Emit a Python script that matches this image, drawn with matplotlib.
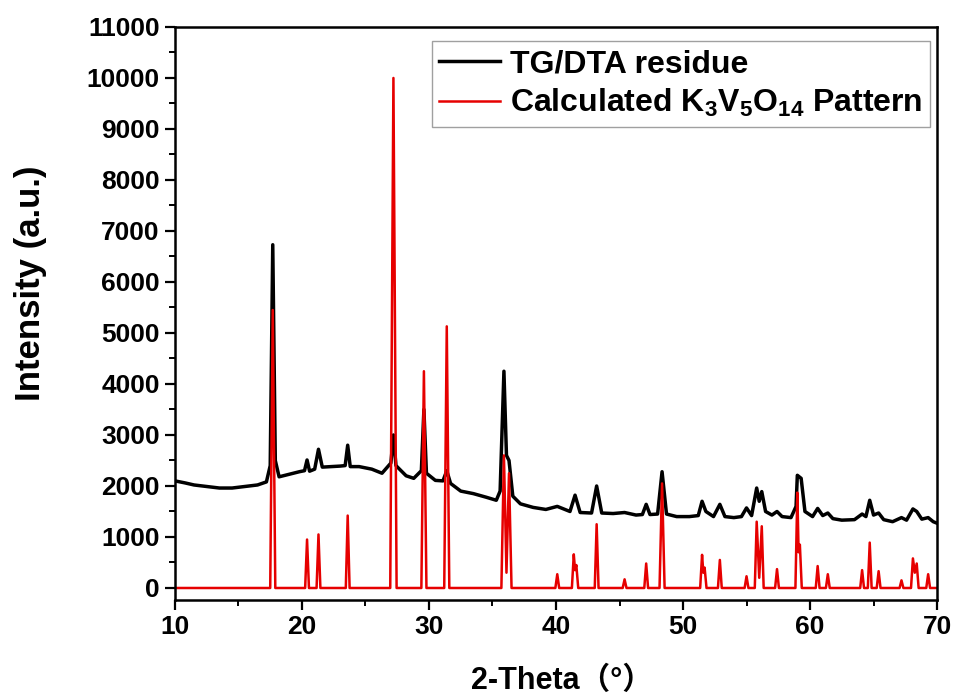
import matplotlib
matplotlib.use("Agg")
import matplotlib.pyplot as plt
from matplotlib.ticker import MultipleLocator

residue_x = [10.0, 10.8, 11.5, 12.5, 13.5, 14.5, 15.5, 16.5, 17.2, 17.5, 17.7, 17.9,
             18.2, 19.0, 19.8, 20.2, 20.4, 20.6, 21.0, 21.3, 21.6, 22.3, 23.0, 23.4,
             23.6, 23.8, 24.5, 25.5, 26.3, 27.0, 27.2, 27.4, 28.2, 28.8, 29.4, 29.6,
             29.8, 30.5, 31.1, 31.4, 31.7, 32.5, 33.5, 34.5, 35.3, 35.6, 35.9, 36.1,
             36.3, 36.6, 37.2, 38.2, 39.2, 40.1, 41.1, 41.5, 41.9, 42.8, 43.2, 43.6,
             44.5, 45.4, 46.3, 46.8, 47.1, 47.4, 48.0, 48.35, 48.7, 49.5, 50.5, 51.2,
             51.5, 51.8, 52.4, 52.9, 53.3, 54.0, 54.6, 55.0, 55.4, 55.8, 56.0, 56.2,
             56.5, 57.0, 57.4, 57.8, 58.5, 58.9, 59.0, 59.3, 59.6, 60.2, 60.6, 61.0,
             61.4, 61.8, 62.5, 63.5, 64.1, 64.4, 64.7, 65.0, 65.4, 65.8, 66.5, 67.2,
             67.6, 68.1, 68.4, 68.8, 69.3, 69.7, 70.0]
residue_y = [2100, 2060, 2020, 1990, 1960, 1960, 1990, 2020, 2080, 2400, 6730, 2500,
             2180, 2230, 2280, 2300, 2510, 2290, 2330, 2720, 2370, 2380, 2390, 2400,
             2800, 2380, 2380, 2330, 2250, 2450, 3000, 2400, 2200, 2150, 2300, 3500,
             2250, 2110, 2100, 2300, 2050, 1900, 1850, 1780, 1720, 1900, 4250, 2600,
             2500, 1800, 1650, 1580, 1540, 1600, 1500, 1820, 1480, 1470, 2000, 1470,
             1460, 1480, 1430, 1440, 1640, 1440, 1450, 2280, 1450, 1400, 1400, 1420,
             1700, 1500, 1400, 1640, 1400, 1380, 1400, 1570, 1420, 1960, 1700, 1890,
             1500, 1430, 1500, 1400, 1380, 1600, 2210, 2150, 1500, 1400, 1560, 1420,
             1470, 1360, 1330, 1340, 1450, 1400, 1720, 1430, 1470, 1340, 1300, 1380,
             1330, 1550, 1500, 1350, 1380, 1300, 1270]

# calculated K3V5O14 pattern
calc_x = [10.0, 17.5, 17.7, 17.9, 20.25, 20.4, 20.55, 21.15, 21.3, 21.45, 23.45, 23.6,
          23.75, 26.95, 27.2, 27.45, 29.4, 29.6, 29.8, 31.2, 31.4, 31.6, 35.7, 35.9,
          36.1, 36.3, 36.5, 39.95, 40.1, 40.25, 41.25, 41.4, 41.5, 41.6, 41.75, 43.05,
          43.2, 43.35, 45.25, 45.4, 45.55, 46.95, 47.1, 47.25, 48.15, 48.35, 48.55,
          51.35, 51.5, 51.6, 51.7, 51.85, 52.75, 52.9, 53.05, 54.85, 55.0, 55.15,
          55.65, 55.8, 56.0, 56.2, 56.35, 57.25, 57.4, 57.55, 58.85, 59.0, 59.1, 59.2,
          59.35, 60.45, 60.6, 60.75, 61.25, 61.4, 61.55, 63.95, 64.1, 64.25, 64.55,
          64.7, 64.85, 65.25, 65.4, 65.55, 67.05, 67.2, 67.35, 67.95, 68.1, 68.25,
          68.4, 68.55, 69.15, 69.3, 69.45, 70.0]
calc_y = [0, 0, 5450, 0, 0, 950, 0, 0, 1050, 0, 0, 1420,
          0, 0, 10000, 0, 0, 4250, 0, 0, 5130, 0, 0, 2600,
          300, 2250, 0, 0, 270, 0, 0, 660, 350, 450, 0, 0,
          1250, 0, 0, 170, 0, 0, 480, 0, 0, 2050, 0,
          0, 650, 300, 400, 0, 0, 550, 0, 0, 230, 0,
          0, 1300, 200, 1210, 0, 0, 370, 0, 0, 1870, 700, 850,
          0, 0, 430, 0, 0, 270, 0, 0, 350, 0, 0,
          890, 0, 0, 330, 0, 0, 150, 0, 0, 580, 300,
          480, 0, 0, 270, 0, 0]

series_labels = ["TG/DTA residue", "Calculated K$_3$V$_5$O$_{14}$ Pattern"]

plt.rcParams["font.family"] = ["Liberation Sans", "Noto Sans CJK SC", "DejaVu Sans"]
plt.rcParams["font.weight"] = "bold"
plt.rcParams["mathtext.fontset"] = "custom"
plt.rcParams["mathtext.rm"] = "Liberation Sans:bold"
plt.rcParams["mathtext.it"] = "Liberation Sans:bold"
plt.rcParams["mathtext.bf"] = "Liberation Sans:bold"

fig = plt.figure(figsize=(9.55, 6.97), dpi=100)
ax = fig.add_axes([0.1832, 0.1392, 0.7980, 0.8221])

ax.plot(residue_x, residue_y, color="black", linewidth=2.5, label=series_labels[0])
ax.plot(calc_x, calc_y, color="#e60000", linewidth=1.8, label=series_labels[1])

ax.set_xlim(10, 70)
ax.set_ylim(-235, 11000)
ax.xaxis.set_major_locator(MultipleLocator(10))
ax.xaxis.set_minor_locator(MultipleLocator(5))
ax.yaxis.set_major_locator(MultipleLocator(1000))
ax.yaxis.set_minor_locator(MultipleLocator(500))
ax.tick_params(which="major", direction="out", length=7, width=1.6, labelsize=19, pad=4)
ax.tick_params(which="minor", direction="out", length=4, width=1.4)
for lbl in ax.get_xticklabels() + ax.get_yticklabels():
    lbl.set_fontweight("bold")
for sp in ax.spines.values():
    sp.set_linewidth(1.8)

ax.set_ylabel("Intensity (a.u.)", fontsize=25, fontweight="bold")
ax.yaxis.set_label_coords(-0.19, 0.553)
ax.yaxis.label.set_va("center")
ax.set_xlabel("2-Theta\uff08\u00b0\uff09", fontsize=22, fontweight="bold")
ax.xaxis.set_label_coords(0.508, -0.142)
ax.xaxis.label.set_va("center")

leg = ax.legend(loc="upper right", bbox_to_anchor=(0.991, 0.975), borderaxespad=0,
                fontsize=23, frameon=True, fancybox=False, edgecolor="#888888",
                handlelength=1.9, borderpad=0.25, labelspacing=0.25, handletextpad=0.3)
leg.get_frame().set_linewidth(1.0)
for t in leg.get_texts():
    t.set_fontweight("bold")

fig.savefig("out.png", dpi=100)
